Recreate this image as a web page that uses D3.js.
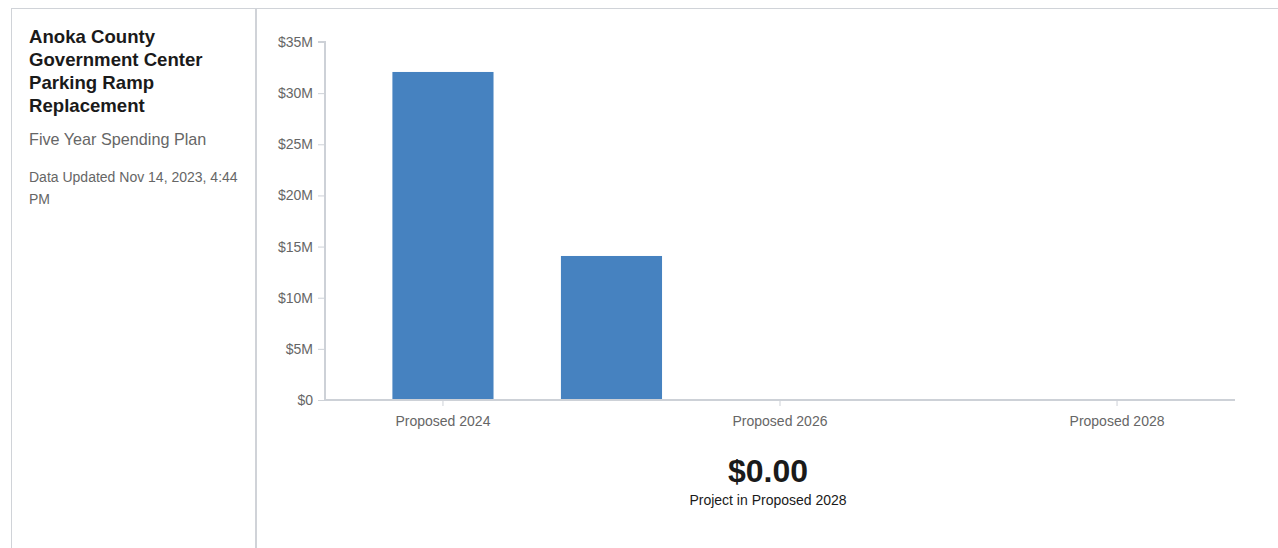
<!DOCTYPE html>
<html lang="en">
<head>
<meta charset="UTF-8">
<title>Five Year Spending Plan</title>
<script src="https://d3js.org/d3.v7.min.js"></script>
<style>
    body { margin: 0; background: #fff; font-family: "Liberation Sans", Arial, sans-serif; }
    #frame { position: absolute; left: 11px; top: 8px; width: 1267px; height: 540px;
             border-left: 1px solid #d0d3d8; border-top: 1px solid #d0d3d8; }
    #side { position: absolute; left: 0; top: 0; width: 245px; height: 540px;
            border-right: 2px solid #d0d3d8; box-sizing: border-box; padding: 16px 10px 0 17px; }
    #side h1 { margin: 0; font-size: 18.6px; line-height: 23px; font-weight: bold; color: #1a1a1a; }
    #side .sub { margin-top: 12px; font-size: 16.2px; line-height: 20px; color: #666; }
    #side .upd { margin-top: 17px; font-size: 14px; line-height: 22px; color: #666; }
    #chart { position: absolute; left: 0; top: 0; }
</style>
</head>
<body>
<div id="frame">
    <div id="side">
        <h1>Anoka County Government Center Parking Ramp Replacement</h1>
        <div class="sub">Five Year Spending Plan</div>
        <div class="upd">Data Updated Nov 14, 2023, 4:44 PM</div>
    </div>
</div>
<svg id="chart" width="1278" height="548"></svg>

<script>
// data
const years = ["Proposed 2024", "Proposed 2025", "Proposed 2026", "Proposed 2027", "Proposed 2028"];
const spending = [32070000, 14080000, 0, 0, 0];
const yTicks = [0, 5e6, 10e6, 15e6, 20e6, 25e6, 30e6, 35e6];
const shownLabels = ["Proposed 2024", "Proposed 2026", "Proposed 2028"];
const bigValue = "$0.00";
const bigCaption = "Project in Proposed 2028";

const svg = d3.select("#chart");
const plotLeft = 325, plotRight = 1235, plotTop = 42, plotBottom = 400;
const font = "Liberation Sans, Arial, sans-serif";

const x = d3.scaleBand().domain(years).range([plotLeft, plotRight])
    .paddingInner(0.4).paddingOuter(0.4);
const y = d3.scaleLinear().domain([0, 35e6]).range([plotBottom, plotTop]);

const axisColor = "#cdd1d7";
const textColor = "#666";

// y axis
const yAxis = svg.append("g")
    .attr("transform", `translate(${plotLeft},0)`)
    .call(d3.axisLeft(y).tickValues(yTicks).tickSize(7).tickPadding(5)
        .tickFormat(d => d === 0 ? "$0" : "$" + (d / 1e6) + "M"));
yAxis.select(".domain").attr("stroke", axisColor).attr("stroke-width", 2)
    .attr("d", `M-7,${plotTop}H0V${plotBottom}`);
yAxis.selectAll(".tick line").attr("stroke", axisColor);
yAxis.selectAll(".tick text").attr("fill", textColor).attr("font-size", 14).attr("font-family", font);

// bars
svg.append("g").selectAll("rect")
    .data(years.map((c, i) => ({ c, v: spending[i] })))
    .enter().append("rect")
    .attr("x", d => x(d.c))
    .attr("y", d => y(d.v))
    .attr("width", x.bandwidth())
    .attr("height", d => plotBottom - y(d.v))
    .attr("fill", "#4682c0");

// x axis
const xAxis = svg.append("g")
    .attr("transform", `translate(0,${plotBottom})`)
    .call(d3.axisBottom(x).tickValues(shownLabels).tickSize(6).tickPadding(10));
xAxis.select(".domain").attr("stroke", axisColor).attr("stroke-width", 2)
    .attr("d", `M${plotLeft},0H${plotRight}`);
xAxis.selectAll(".tick line").attr("stroke", axisColor);
xAxis.selectAll(".tick text").attr("fill", textColor).attr("font-size", 14).attr("font-family", font);

// summary value
const cx = (plotLeft + plotRight) / 2 - 12;
svg.append("text").attr("x", cx).attr("y", 482).attr("text-anchor", "middle")
    .attr("font-size", 32).attr("font-weight", "bold").attr("fill", "#1a1a1a")
    .attr("font-family", font).text(bigValue);
svg.append("text").attr("x", cx).attr("y", 505).attr("text-anchor", "middle")
    .attr("font-size", 14).attr("fill", "#1a1a1a")
    .attr("font-family", font).text(bigCaption);
</script>
</body>
</html>
